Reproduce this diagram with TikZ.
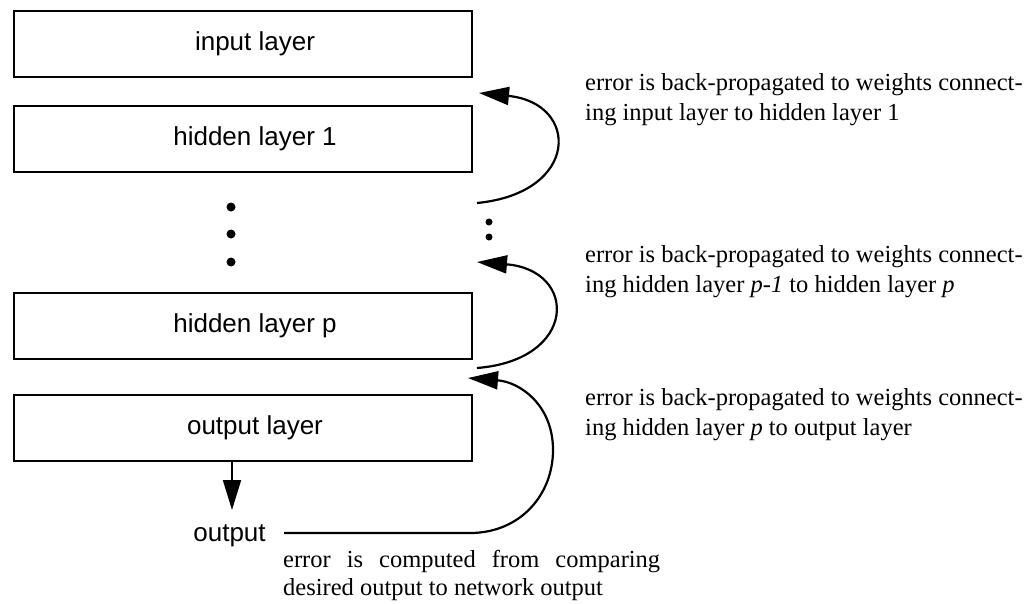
\documentclass[tikz,border=0pt]{standalone}
\usepackage{fontspec}
\setmainfont{Liberation Serif}
\newfontfamily\lsans{Liberation Sans}
\usetikzlibrary{arrows.meta}
\begin{document}
\begin{tikzpicture}[x=1pt,y=-1pt,
  layer/.style={draw, line width=2pt, minimum width=458pt, minimum height=66pt, inner sep=0pt},
  lbl/.style={font=\lsans\fontsize{26}{30}\selectfont, inner sep=0pt},
  note/.style={font=\fontsize{24.5}{30}\selectfont, align=left, anchor=base west, inner sep=0pt},
  bigarrow/.style={line width=2.2pt, -{Triangle[length=30pt,width=18pt]}},
  bigdot/.style={circle, fill, inner sep=0pt, minimum size=9pt},
  smalldot/.style={circle, fill, inner sep=0pt, minimum size=7pt}]
\useasboundingbox (0,0) rectangle (1027,603);

% layers
\node[layer, label={[lbl,xshift=12pt]center:input layer}] (in) at (243,43.5) {};
\node[layer, label={[lbl,xshift=12pt]center:hidden layer 1}] (h1) at (243,139) {};
\node[layer, label={[lbl,xshift=12pt]center:hidden layer p}] (hp) at (243,325.5) {};
\node[layer, label={[lbl,xshift=12pt]center:output layer}] (out) at (243,428) {};

% vertical dots
\node[bigdot] (d1) at (231,207) {};
\node[bigdot] (d2) at (231,234) {};
\node[bigdot] (d3) at (231,262) {};
\node[smalldot] (r1) at (489,222) {};
\node[smalldot] (r2) at (489,237) {};

% output arrow
\coordinate (dn) at (232,510);
\draw[line width=2pt, -{Triangle[length=30pt,width=18pt]}] (out.south -| dn) -- (dn);
\node[lbl, anchor=base] (otxt) at (229.5,541) {output};

% back-propagation arrows
\coordinate (a1tail) at (477,203);
\coordinate (a1tip) at (479,93);
\draw[bigarrow] (a1tail) .. controls (580,193) and (580,103) .. (a1tip);

\coordinate (a2tail) at (477,368);
\coordinate (a2tip) at (477,262);
\draw[bigarrow] (a2tail) .. controls (578,360) and (578,270) .. (a2tip);

\coordinate (ls) at (284,533);
\coordinate (lc) at (470,533);
\coordinate (lr) at (553,450);
\coordinate (a3tip) at (468,378);
\draw[bigarrow] (ls) -- (lc) .. controls (520,533) and (553,495) .. (lr)
  .. controls (553,405) and (520,382) .. (a3tip);

% notes
\node[note] (n1) at (585,120) {error is back-propagated to weights connect-\\ing input layer to hidden layer 1};
\node[note] (n2) at (585,292) {error is back-propagated to weights connect-\\ing hidden layer \textit{p-1} to hidden layer \textit{p}};
\node[note] (n3) at (585,435) {error is back-propagated to weights connect-\\ing hidden layer \textit{p} to output layer};
\node[note, text width=377pt, align=justify, font=\fontsize{24.5}{28}\selectfont] (n4) at (283,567)
  {error is computed from comparing\linebreak desired output to network output};
\end{tikzpicture}
\end{document}
